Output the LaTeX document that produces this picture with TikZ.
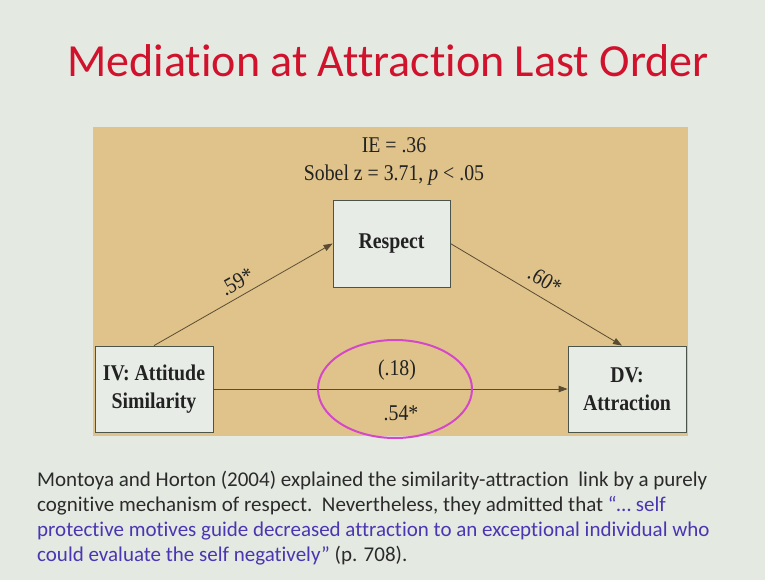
\documentclass[tikz,border=0pt]{standalone}
\usepackage{fontspec}
\usepackage{graphicx}
\usetikzlibrary{arrows.meta,calc}
\setmainfont{Liberation Serif}
\newfontfamily\slidefont[Ligatures={NoCommon,NoRequired,NoContextual}]{Carlito}

\definecolor{slidebg}{HTML}{E4E9E2}
\definecolor{panelfill}{HTML}{DFC38B}
\definecolor{boxfill}{HTML}{E8ECE7}
\definecolor{boxline}{HTML}{4B5448}
\definecolor{pathline}{HTML}{5A4B33}
\definecolor{titlered}{HTML}{D0122C}
\definecolor{bodyink}{HTML}{2B2B2B}
\definecolor{quoteblue}{HTML}{4A36B2}
\definecolor{circlemag}{HTML}{D448C8}
\definecolor{diagink}{HTML}{222222}

% diagram lettering is slightly condensed
\newcommand\cnd[1]{\scalebox{0.88}[1]{#1}}

\begin{document}
\begin{tikzpicture}[x=1pt,y=-1pt,
  slidetitle/.style={font=\slidefont\fontsize{46}{50}\selectfont, text=titlered, inner sep=0pt},
  bodyline/.style={font=\slidefont\fontsize{21}{25}\selectfont, text=bodyink, anchor=base west, inner sep=0pt},
  varbox/.style={draw=boxline, fill=boxfill, line width=0.8pt, inner sep=0pt,
    minimum width=118pt, minimum height=86pt,
    font=\fontsize{22.5}{29}\selectfont\bfseries, text=diagink, align=center},
  coef/.style={font=\fontsize{22.5}{27}\selectfont, text=diagink, inner sep=1pt},
  path/.style={draw=pathline, line width=0.8pt, -{Triangle[length=9pt,width=6.5pt]}},
]
\useasboundingbox (0,0) rectangle (765,580);
\fill[slidebg] (0,0) rectangle (765,580);

% heading
\node[slidetitle, anchor=base] (title) at (388,77) {Mediation at Attraction Last Order};

% model panel
\fill[panelfill] (93,127) rectangle (688,436);

\node[coef] (ie) at (394,145) {\cnd{IE = .36}};
\node[coef] (sobel) at (394,175) {\cnd{Sobel z = 3.71, \textit{p} < .05}};

\node[varbox, minimum width=117pt, minimum height=87pt] (med) at (391.5,243.5) {\cnd{Respect}};
\node[varbox] (iv) at (154,389) {\cnd{IV: Attitude}\\[-1pt]\cnd{Similarity}};
\node[varbox] (dv) at (627,389) {\cnd{DV:}\\[-1pt]\cnd{Attraction}};

\coordinate (dvtop) at ($(dv.north)+(-5,0)$);

\draw[path] (iv.north) -- (med.west);
\draw[path] (med.east) -- (dvtop);
\draw[path] (iv.east) -- (dv.west);

\node[coef, rotate=29.8] (a) at (237,282) {\cnd{.59*}};
\node[coef, rotate=-30.5] (b) at (545,280) {\cnd{.60*}};

\node[coef] (cprime) at (397,370) {\cnd{(.18)}};
\node[coef] (ctotal) at (401,413) {\cnd{.54*}};

\draw[circlemag, line width=2pt] (395,389) ellipse [x radius=77pt, y radius=49pt];

% commentary
\node[bodyline] (l1) at (37,486) {Montoya and Horton (2004) explained the similarity-attraction\ \ link by a purely};
\node[bodyline] (l2) at (37,511) {cognitive mechanism of respect.\ \ Nevertheless, they admitted that \textcolor{quoteblue}{“… self}};
\node[bodyline, text=quoteblue] (l3) at (37,536) {protective motives guide decreased attraction to an exceptional individual who};
\node[bodyline, text=quoteblue] (l4) at (37,561) {could evaluate the self negatively” \textcolor{bodyink}{(p. 708).}};
\end{tikzpicture}
\end{document}
